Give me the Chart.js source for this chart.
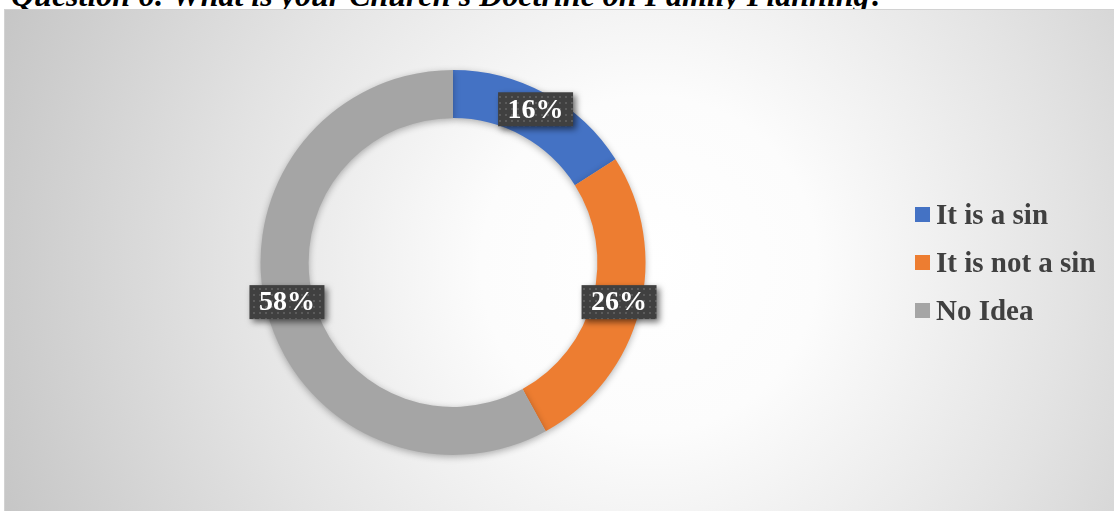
<!DOCTYPE html>
<html>
<head>
<meta charset="utf-8">
<script src="https://cdn.jsdelivr.net/npm/chart.js@4/dist/chart.umd.min.js"></script>
<style>
body{margin:0;width:1114px;height:511px;overflow:hidden;background:#fff;position:relative;}
#title{position:absolute;left:11px;top:-21px;font:bold italic 32px/1 "Liberation Serif","Times New Roman",serif;color:#000;white-space:nowrap;}
#frame{position:absolute;left:4px;top:9px;width:1130px;height:530px;border:1px solid #d2d2d2;
  background:radial-gradient(circle farthest-corner at 57% 48%, #ffffff 0%, #fcfcfc 24%, #e3e3e3 60%, #c5c5c5 100%);}
#wrap{position:absolute;left:5px;top:10px;width:1109px;height:501px;}
#legend{position:absolute;left:915px;top:190px;font:bold 29px "Liberation Serif","Times New Roman",serif;color:#404040;}
#legend div{display:flex;align-items:center;height:48px;line-height:48px;white-space:nowrap;}
#legend span.box{display:inline-block;width:15px;height:15px;margin-right:6px;}
</style>
</head>
<body>
<div id="title">Question 6: What is your Church’s Doctrine on Family Planning?</div>
<div id="frame"></div>
<div id="wrap"><canvas id="myChart" width="1109" height="501"></canvas></div>
<div id="legend"></div>
<script>
/*data*/
const categories = ['It is a sin', 'It is not a sin', 'No Idea'];
const shares = [16, 26, 58];
const colors = ['#4472C4', '#ED7D31', '#A5A5A5'];

/*legend*/
let legend = document.getElementById('legend');
categories.forEach((name, i) => {
  let row = document.createElement('div');
  row.innerHTML = '<span class="box" style="background:' + colors[i] + '"></span>' + name;
  legend.appendChild(row);
});

/*dotted label fill*/
let tile = document.createElement('canvas');
tile.width = 6; tile.height = 6;
let tctx = tile.getContext('2d');
tctx.fillStyle = '#404040';
tctx.fillRect(0, 0, 6, 6);
tctx.fillStyle = '#5b5b5b';
tctx.fillRect(2, 2, 2, 2);

const ringShadow = {
  id: 'ringShadow',
  beforeDatasetsDraw(chart) {
    let c = chart.ctx;
    c.save();
    c.shadowColor = 'rgba(0,0,0,0.3)';
    c.shadowBlur = 7;
    c.shadowOffsetY = 2;
  },
  afterDatasetsDraw(chart) {
    chart.ctx.restore();
  }
};

const boxLabels = {
  id: 'boxLabels',
  afterDraw(chart) {
    let c = chart.ctx;
    let pattern = c.createPattern(tile, 'repeat');
    chart.getDatasetMeta(0).data.forEach((arc, i) => {
      let p = arc.getProps(['x', 'y', 'startAngle', 'endAngle', 'innerRadius', 'outerRadius'], true);
      let mid = (p.startAngle + p.endAngle) / 2;
      let r = (p.innerRadius + p.outerRadius) / 2 + 3;
      let x = p.x + Math.cos(mid) * r;
      let y = p.y + Math.sin(mid) * r - 3;
      let text = shares[i] + '%';
      c.save();
      c.font = 'bold 28px "Liberation Serif", "Times New Roman", serif';
      let w = c.measureText(text).width + 19, h = 34;
      c.shadowColor = 'rgba(0,0,0,0.55)';
      c.shadowBlur = 6;
      c.shadowOffsetX = 3;
      c.shadowOffsetY = 3;
      c.fillStyle = pattern;
      c.fillRect(x - w / 2, y - h / 2, w, h);
      c.shadowColor = 'transparent';
      c.fillStyle = '#ffffff';
      c.textAlign = 'center';
      c.textBaseline = 'middle';
      c.fillText(text, x, y + 1);
      c.restore();
    });
  }
};

var ctx = document.getElementById('myChart').getContext('2d');
var myChart = new Chart(ctx, {
  type: 'doughnut',
  data: {
    labels: categories,
    datasets: [{
      data: shares,
      backgroundColor: colors,
      borderWidth: 0
    }]
  },
  options: {
    responsive: false,
    animation: false,
    cutout: '75%',
    layout: { padding: { left: 100, right: 313, top: 60, bottom: 56 } },
    plugins: {
      legend: { display: false },
      tooltip: { enabled: false }
    }
  },
  plugins: [ringShadow, boxLabels]
});
</script>
</body>
</html>
